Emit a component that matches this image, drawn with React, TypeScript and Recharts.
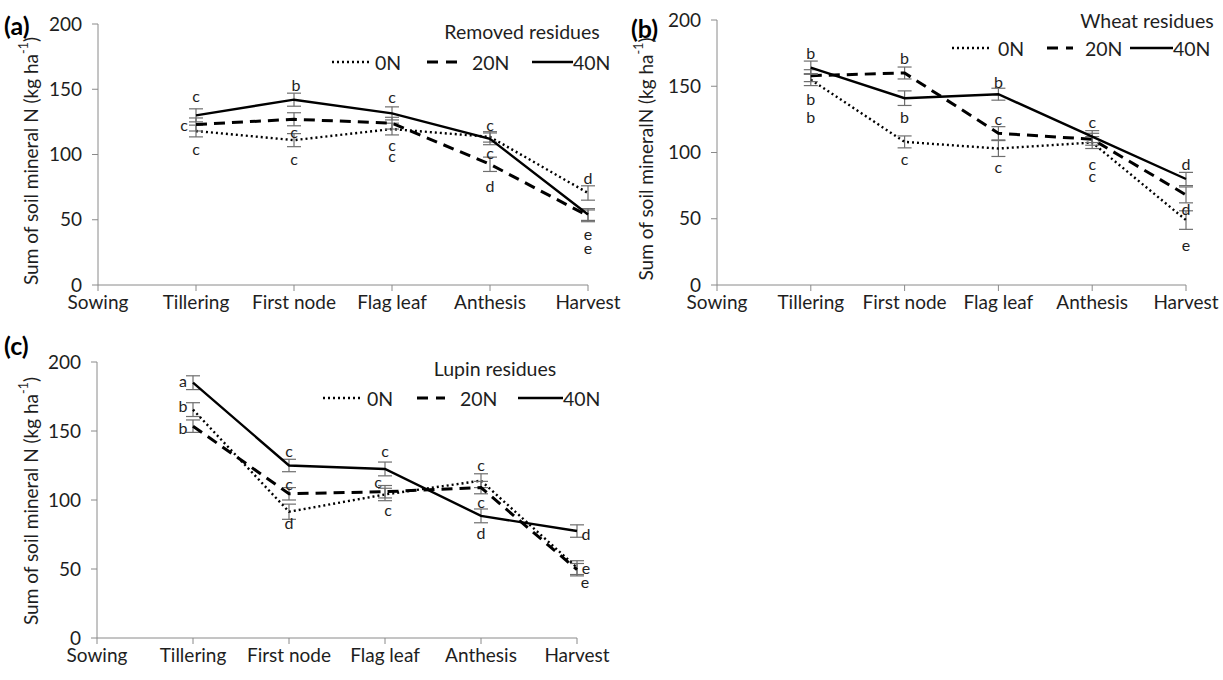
import { LineChart, Line, XAxis, YAxis, ErrorBar, LabelList } from 'recharts'

const stages = ['Sowing', 'Tillering', 'First node', 'Flag leaf', 'Anthesis', 'Harvest']
const yTicks = [0, 50, 100, 150, 200]

// (a) removed residues
const removed0N = [null, 118, 111, 119.5, 113.5, 70.5]
const removed20N = [null, 123, 127, 124, 92.5, 53]
const removed40N = [null, 130, 142, 131.5, 112, 54]
const removedErr0N = [null, 4.5, 5, 4.5, 4, 5.5]
const removedErr20N = [null, 5, 5, 4.5, 5.5, 4.5]
const removedErr40N = [null, 5, 5, 5, 4.5, 4.5]
const removedSig0N = [null, 'c', 'c', 'c', 'c', 'd']
const removedSig20N = [null, 'c', 'c', 'c', 'd', 'e']
const removedSig40N = [null, 'c', 'b', 'c', 'c', 'e']

// (b) wheat residues
const wheat0N = [null, 155, 108, 103, 107.5, 49]
const wheat20N = [null, 158, 160, 114.5, 110, 68]
const wheat40N = [null, 164, 141, 144, 112, 80]
const wheatErr0N = [null, 4.5, 4.5, 6, 4.5, 7]
const wheatErr20N = [null, 4.5, 4.5, 5, 4.5, 6]
const wheatErr40N = [null, 5, 5.5, 4.5, 4.5, 5]
const wheatSig0N = [null, 'b', 'c', 'c', 'c', 'e']
const wheatSig20N = [null, 'b', 'b', 'c', 'c', 'd']
const wheatSig40N = [null, 'b', 'b', 'b', 'c', 'd']

// (c) lupin residues
const lupin0N = [null, 165.5, 91.5, 104, 114, 51]
const lupin20N = [null, 153.5, 104.5, 106, 109, 49.5]
const lupin40N = [null, 185, 125, 122.5, 88.5, 77.5]
const lupinErr0N = [null, 5, 5.5, 4.5, 5, 5]
const lupinErr20N = [null, 4.5, 4.5, 4.5, 4.5, 4.5]
const lupinErr40N = [null, 5, 4.5, 5, 5, 4.5]
const lupinSig0N = [null, 'b', 'd', 'c', 'c', 'e']
const lupinSig20N = [null, 'b', 'c', 'c', 'c', 'e']
const lupinSig40N = [null, 'a', 'c', 'c', 'd', 'd']

// letter offsets (px) from each point
const offsA = {
  n0: [null, [0, 17], [0, 18], [0, 15], [0, 16], [0, -15]],
  n20: [null, [-12, 0], [0, 12], [0, 32], [0, 21], [0, 32]],
  n40: [null, [0, -20], [2, -15], [0, -17], [0, -14], [0, 19]],
}
const offsB = {
  n0: [null, [0, 19], [0, 17], [0, 18], [0, 33], [0, 24]],
  n20: [null, [0, 41], [0, -16], [0, -15], [0, 24], [0, 14]],
  n40: [null, [0, -15], [0, 18], [0, -13], [0, -15], [0, -16]],
}
const offsC = {
  n0: [null, [-10, -4], [0, 11], [3, 15], [0, -16], [9, 0]],
  n20: [null, [-10, 1], [0, -10], [-7, -10], [0, 14], [8, 12]],
  n40: [null, [-10, -2], [0, -15], [0, -18], [0, 17], [9, 2]],
}

// legend item layout: dotted, 0N, dashed, 20N, solid, 40N (px from left)
const legendA = [0, 38, 43, 95, 125, 140, 200, 241, 241]
const legendB = [0, 38, 46, 95, 121, 133, 178, 221, 221]
const legendC = [0, 39, 44, 94, 122, 137, 195, 240, 240]

const FONT = 'Lato, "Open Sans", sans-serif'
const AXIS = '#8a8a8a'
const INK = '#1e1e1e'

function buildRows(v0: any[], v20: any[], v40: any[], e0: any[], e20: any[], e40: any[], s0: any[], s20: any[], s40: any[]) {
  return stages.map((stage, i) => ({
    stage,
    v0: v0[i], v20: v20[i], v40: v40[i],
    e0: e0[i], e20: e20[i], e40: e40[i],
    s0: s0[i], s20: s20[i], s40: s40[i],
  }))
}

const rowsA = buildRows(removed0N, removed20N, removed40N, removedErr0N, removedErr20N, removedErr40N, removedSig0N, removedSig20N, removedSig40N)
const rowsB = buildRows(wheat0N, wheat20N, wheat40N, wheatErr0N, wheatErr20N, wheatErr40N, wheatSig0N, wheatSig20N, wheatSig40N)
const rowsC = buildRows(lupin0N, lupin20N, lupin40N, lupinErr0N, lupinErr20N, lupinErr40N, lupinSig0N, lupinSig20N, lupinSig40N)

function letterLabel(offs: any[]) {
  return (props: any) => {
    const { x, y, value, index } = props
    if (value == null || x == null || y == null) return null
    const o = offs[index] || [0, 0]
    return (
      <text x={x + o[0]} y={y + o[1]} textAnchor="middle" dominantBaseline="central" fontSize={16} fill={INK} fontFamily={FONT}>
        {value}
      </text>
    )
  }
}

const series = [
  { key: '0', dash: '2 3', width: 2.4 },
  { key: '20', dash: '11 7', width: 3 },
  { key: '40', dash: undefined, width: 2.4 },
]

function Panel({ rows, left, top, width, height, margin, offs }: any) {
  return (
    <div style={{ position: 'absolute', left, top }}>
      <LineChart width={width} height={height} data={rows} margin={margin}>
        <XAxis
          dataKey="stage"
          scale="point"
          padding={{ left: 0, right: 0 }}
          interval={0}
          height={30}
          tick={{ fill: INK, fontSize: 19, fontFamily: FONT }}
          tickSize={6}
          tickMargin={5}
          stroke={AXIS}
        />
        <YAxis
          domain={[0, 200]}
          ticks={yTicks}
          width={50}
          tick={{ fill: INK, fontSize: 19, fontFamily: FONT }}
          tickSize={6}
          tickMargin={10}
          stroke={AXIS}
        />
        {series.map((s) => (
          <Line
            key={s.key}
            type="linear"
            dataKey={'v' + s.key}
            stroke="#000"
            strokeWidth={s.width}
            strokeDasharray={s.dash}
            dot={false}
            activeDot={false}
            isAnimationActive={false}
          >
            <ErrorBar dataKey={'e' + s.key} width={7} strokeWidth={1.2} stroke="#6e6e6e" direction="y" isAnimationActive={false} />
            <LabelList dataKey={'s' + s.key} content={letterLabel(offs['n' + s.key])} />
          </Line>
        ))}
      </LineChart>
    </div>
  )
}

function LegendBox({ x, y, titleX, titleY, title, lay }: any) {
  const t = { fontFamily: FONT, fontSize: 19.5, fill: INK }
  return (
    <g>
      <text x={titleX} y={titleY} textAnchor="middle" dominantBaseline="central" {...t}>{title}</text>
      <line x1={x + lay[0]} x2={x + lay[1]} y1={y} y2={y} stroke="#000" strokeWidth={2.4} strokeDasharray="2 3" />
      <text x={x + lay[2]} y={y} dominantBaseline="central" {...t}>0N</text>
      <line x1={x + lay[3]} x2={x + lay[4]} y1={y} y2={y} stroke="#000" strokeWidth={3} strokeDasharray="11 8" />
      <text x={x + lay[5]} y={y} dominantBaseline="central" {...t}>20N</text>
      <line x1={x + lay[6]} x2={x + lay[7]} y1={y} y2={y} stroke="#000" strokeWidth={2.4} />
      <text x={x + lay[8]} y={y} dominantBaseline="central" {...t}>40N</text>
    </g>
  )
}

function YTitle({ cx, cy, text }: any) {
  return (
    <text
      x={cx}
      y={cy}
      transform={`rotate(-90 ${cx} ${cy})`}
      textAnchor="middle"
      dominantBaseline="central"
      fontFamily={FONT}
      fontSize={19}
      fill={INK}
    >
      {text} (kg ha<tspan dy={-7} fontSize={12.5}>-1</tspan><tspan dy={7}>)</tspan>
    </text>
  )
}

export default function App() {
  return (
    <div style={{ position: 'absolute', left: 0, top: 0, width: 1223, height: 680, background: '#fff' }}>
      <Panel rows={rowsA} left={0} top={0} width={640} height={330} margin={{ top: 24, right: 52, left: 48, bottom: 15 }} offs={offsA} />
      <Panel rows={rowsB} left={610} top={0} width={613} height={330} margin={{ top: 20, right: 37, left: 57, bottom: 15 }} offs={offsB} />
      <Panel rows={rowsC} left={0} top={330} width={640} height={350} margin={{ top: 32, right: 63, left: 47, bottom: 12 }} offs={offsC} />
      <svg width={1223} height={680} style={{ position: 'absolute', left: 0, top: 0, pointerEvents: 'none' }}>
        <text x={4} y={25} dominantBaseline="central" fontFamily={FONT} fontWeight={700} fontSize={25} fill="#000">(a)</text>
        <text x={631} y={28} dominantBaseline="central" fontFamily={FONT} fontWeight={700} fontSize={25} fill="#000">(b)</text>
        <text x={4} y={345} dominantBaseline="central" fontFamily={FONT} fontWeight={700} fontSize={25} fill="#000">(c)</text>
        <YTitle cx={30} cy={161} text="Sum of soil mineral N" />
        <YTitle cx={645} cy={159} text="Sum of soil mineralN" />
        <YTitle cx={30} cy={501} text="Sum of soil mineral N" />
        <LegendBox x={332} y={62} titleX={522} titleY={31} title="Removed residues" lay={legendA} />
        <LegendBox x={952} y={48} titleX={1147} titleY={20} title="Wheat residues" lay={legendB} />
        <LegendBox x={323} y={398} titleX={495} titleY={368} title="Lupin residues" lay={legendC} />
      </svg>
    </div>
  )
}
